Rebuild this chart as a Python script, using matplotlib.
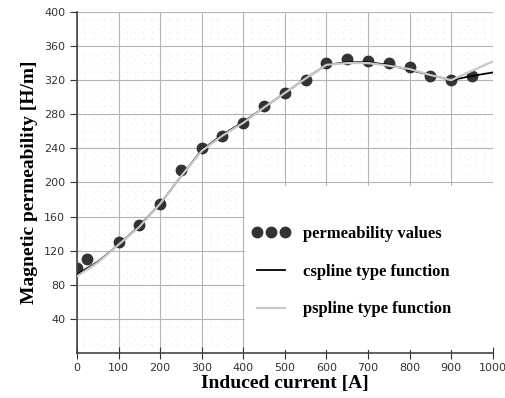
import matplotlib.pyplot as plt
from matplotlib.patches import Rectangle

# measured permeability points
current = [0, 25, 100, 150, 200, 250, 300, 350, 400, 450, 500, 550, 600, 650, 700, 750, 800, 850, 900, 950]
permeability = [100, 110, 130, 150, 175, 215, 240, 255, 270, 290, 305, 320, 340, 345, 342, 340, 335, 325, 320, 325]

# fitted curves
curve_x = [0, 50, 100, 150, 200, 250, 300, 350, 400, 450, 500, 550, 600, 650, 700, 750, 800, 850, 900, 950, 1000]
cspline = [92, 107, 127, 149, 175, 207, 238, 256, 271, 288, 305, 322, 338, 341, 341, 338, 332, 326, 320, 325, 329]
pspline = [90, 106, 127, 148, 175, 207, 237, 255, 270, 288, 305, 322, 338, 340, 340, 337, 333, 326, 320, 331, 342]

fig = plt.figure(figsize=(5.06, 3.98), dpi=100)
ax = fig.add_axes([0.152, 0.113, 0.822, 0.857])

ax.plot(curve_x, cspline, color="black", lw=1.3, label="cspline type function", zorder=3)
ax.plot(curve_x, pspline, color="#c8c8c8", lw=1.6, label="pspline type function", zorder=4)
ax.plot(current, permeability, "o", color="#333333", ms=7.5, label="permeability values", zorder=2)

ax.set_xlim(0, 1000)
ax.set_ylim(0, 400)
ax.set_xticks(range(0, 1001, 100))
ax.set_yticks(range(40, 401, 40))
ax.set_xticks(range(0, 1001, 20), minor=True)
ax.set_yticks(range(0, 401, 10), minor=True)
ax.tick_params(which="minor", length=0)
ax.tick_params(axis="x", direction="inout", length=8, labelsize=8, colors="#333333")
ax.tick_params(axis="y", direction="out", length=5, labelsize=8, colors="#333333")

ax.grid(which="major", color="#b5b5b5", lw=0.8)
ax.grid(which="minor", color="#dddddd", lw=0.6, linestyle=(0, (1, 7)))
ax.set_axisbelow(True)
for s in ["top", "right"]:
    ax.spines[s].set_visible(False)
for s in ["left", "bottom"]:
    ax.spines[s].set_color("#444444")
    ax.spines[s].set_linewidth(1.2)

serif = {"family": "Liberation Serif", "weight": "bold", "size": 14}
ax.set_xlabel("Induced current [A]", fontdict=serif, labelpad=1)
ax.set_ylabel("Magnetic permeability [H/m]", fontdict=serif, labelpad=4)

# white legend area
ax.add_patch(Rectangle((0.404, 0.01), 0.596, 0.48, transform=ax.transAxes,
                       facecolor="white", edgecolor="none", zorder=5))

handles, labels = ax.get_legend_handles_labels()
order = [2, 0, 1]
leg = ax.legend([handles[i] for i in order], [labels[i] for i in order],
                loc="upper left", bbox_to_anchor=(0.42, 0.372), numpoints=3,
                frameon=False, borderpad=0, borderaxespad=0,
                labelspacing=1.3, handlelength=2.3, handletextpad=0.8,
                prop={"family": "Liberation Serif", "weight": "bold", "size": 12})
leg.set_zorder(6)

plt.savefig("out.png", dpi=100)
